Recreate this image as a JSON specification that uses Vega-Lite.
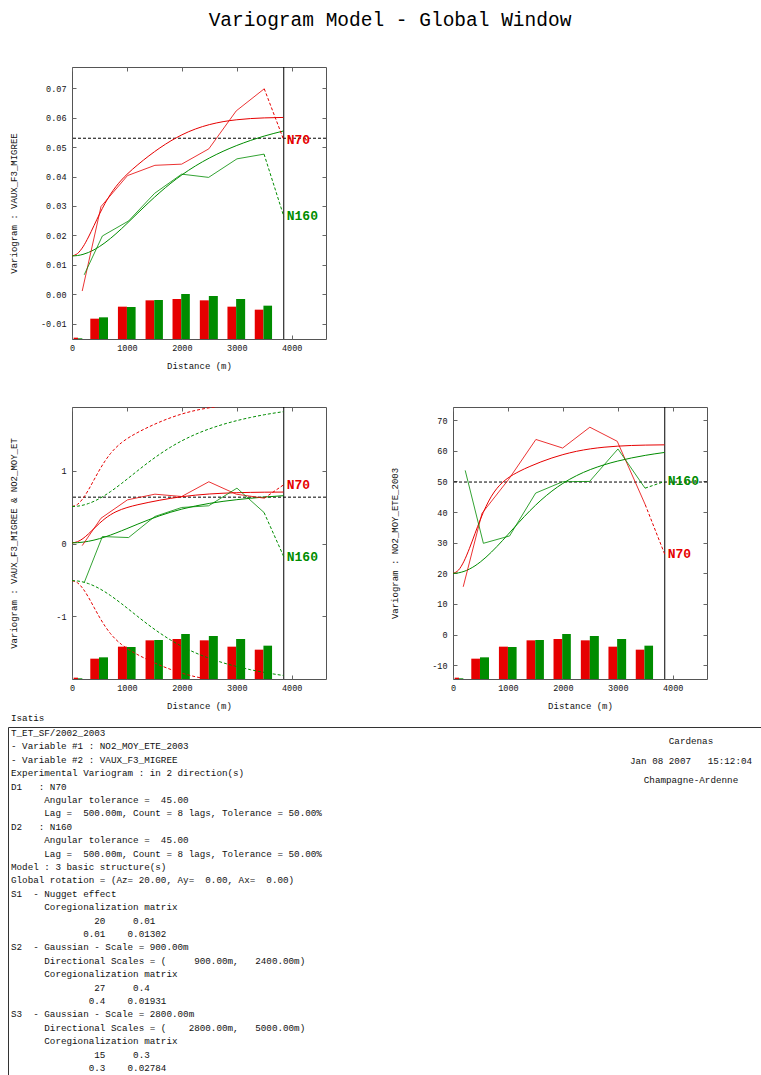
{
  "$schema": "https://vega.github.io/schema/vega-lite/v6.json",
  "background": "white",
  "padding": {"left": 8, "top": 9, "right": 0, "bottom": 0},
  "title": {"text": "Variogram Model - Global Window", "font": "Liberation Mono", "fontSize": 19.5, "fontWeight": "normal", "anchor": "middle", "offset": 36, "dx": -31, "color": "#000"},
  "datasets": {
    "bars": [
      {"dir": "N70", "lag": 0, "d0": 30, "d1": 109, "count": 40},
      {"dir": "N160", "lag": 0, "d0": 109, "d1": 188, "count": 20},
      {"dir": "N70", "lag": 1, "d0": 333, "d1": 491, "count": 610},
      {"dir": "N160", "lag": 1, "d0": 491, "d1": 655, "count": 650},
      {"dir": "N70", "lag": 2, "d0": 836, "d1": 1000, "count": 970},
      {"dir": "N160", "lag": 2, "d0": 1000, "d1": 1158, "count": 960},
      {"dir": "N70", "lag": 3, "d0": 1339, "d1": 1497, "count": 1160},
      {"dir": "N160", "lag": 3, "d0": 1497, "d1": 1655, "count": 1170},
      {"dir": "N70", "lag": 4, "d0": 1830, "d1": 1988, "count": 1200},
      {"dir": "N160", "lag": 4, "d0": 1988, "d1": 2145, "count": 1350},
      {"dir": "N70", "lag": 5, "d0": 2327, "d1": 2491, "count": 1160},
      {"dir": "N160", "lag": 5, "d0": 2491, "d1": 2655, "count": 1290},
      {"dir": "N70", "lag": 6, "d0": 2830, "d1": 2988, "count": 970},
      {"dir": "N160", "lag": 6, "d0": 2988, "d1": 3152, "count": 1200},
      {"dir": "N70", "lag": 7, "d0": 3327, "d1": 3485, "count": 880},
      {"dir": "N160", "lag": 7, "d0": 3485, "d1": 3642, "count": 1000}
    ],
    "model": [
      {"dir": "N70", "h": 0, "vaux": 0.01302, "no2": 20, "cross": 0.01, "envp": 0.5103, "envn": -0.5103},
      {"dir": "N70", "h": 100, "vaux": 0.01383, "no2": 21.04, "cross": 0.0257, "envp": 0.5394, "envn": -0.5394},
      {"dir": "N70", "h": 200, "vaux": 0.0161, "no2": 23.95, "cross": 0.0696, "envp": 0.621, "envn": -0.621},
      {"dir": "N70", "h": 300, "vaux": 0.01944, "no2": 28.16, "cross": 0.1336, "envp": 0.7399, "envn": -0.7399},
      {"dir": "N70", "h": 400, "vaux": 0.02331, "no2": 32.96, "cross": 0.2067, "envp": 0.8765, "envn": -0.8765},
      {"dir": "N70", "h": 500, "vaux": 0.02722, "no2": 37.67, "cross": 0.2789, "envp": 1.0126, "envn": -1.0126},
      {"dir": "N70", "h": 600, "vaux": 0.03082, "no2": 41.81, "cross": 0.3432, "envp": 1.1352, "envn": -1.1352},
      {"dir": "N70", "h": 700, "vaux": 0.03395, "no2": 45.17, "cross": 0.3961, "envp": 1.2383, "envn": -1.2383},
      {"dir": "N70", "h": 800, "vaux": 0.03657, "no2": 47.73, "cross": 0.4378, "envp": 1.3212, "envn": -1.3212},
      {"dir": "N70", "h": 900, "vaux": 0.03879, "no2": 49.65, "cross": 0.47, "envp": 1.3878, "envn": -1.3878},
      {"dir": "N70", "h": 1000, "vaux": 0.04071, "no2": 51.1, "cross": 0.4955, "envp": 1.4423, "envn": -1.4423},
      {"dir": "N70", "h": 1200, "vaux": 0.04403, "no2": 53.22, "cross": 0.5352, "envp": 1.5308, "envn": -1.5308},
      {"dir": "N70", "h": 1400, "vaux": 0.04701, "no2": 54.9, "cross": 0.568, "envp": 1.6065, "envn": -1.6065},
      {"dir": "N70", "h": 1600, "vaux": 0.04972, "no2": 56.37, "cross": 0.5973, "envp": 1.6741, "envn": -1.6741},
      {"dir": "N70", "h": 1800, "vaux": 0.05211, "no2": 57.66, "cross": 0.6232, "envp": 1.7334, "envn": -1.7334},
      {"dir": "N70", "h": 2000, "vaux": 0.05415, "no2": 58.75, "cross": 0.6451, "envp": 1.7836, "envn": -1.7836},
      {"dir": "N70", "h": 2250, "vaux": 0.05616, "no2": 59.84, "cross": 0.6668, "envp": 1.8332, "envn": -1.8332},
      {"dir": "N70", "h": 2500, "vaux": 0.05762, "no2": 60.63, "cross": 0.6826, "envp": 1.8691, "envn": -1.8691},
      {"dir": "N70", "h": 2750, "vaux": 0.05863, "no2": 61.17, "cross": 0.6934, "envp": 1.8938, "envn": -1.8938},
      {"dir": "N70", "h": 3000, "vaux": 0.05928, "no2": 61.52, "cross": 0.7004, "envp": 1.9097, "envn": -1.9097},
      {"dir": "N70", "h": 3250, "vaux": 0.05968, "no2": 61.74, "cross": 0.7047, "envp": 1.9195, "envn": -1.9195},
      {"dir": "N70", "h": 3500, "vaux": 0.05991, "no2": 61.86, "cross": 0.7072, "envp": 1.9251, "envn": -1.9251},
      {"dir": "N70", "h": 3850, "vaux": 0.06007, "no2": 61.95, "cross": 0.709, "envp": 1.9291, "envn": -1.9291},
      {"dir": "N160", "h": 0, "vaux": 0.01302, "no2": 20, "cross": 0.01, "envp": 0.5103, "envn": -0.5103},
      {"dir": "N160", "h": 100, "vaux": 0.01315, "no2": 20.16, "cross": 0.0124, "envp": 0.5149, "envn": -0.5149},
      {"dir": "N160", "h": 200, "vaux": 0.01355, "no2": 20.63, "cross": 0.0197, "envp": 0.5287, "envn": -0.5287},
      {"dir": "N160", "h": 300, "vaux": 0.0142, "no2": 21.4, "cross": 0.0315, "envp": 0.5513, "envn": -0.5513},
      {"dir": "N160", "h": 400, "vaux": 0.01509, "no2": 22.44, "cross": 0.0477, "envp": 0.5819, "envn": -0.5819},
      {"dir": "N160", "h": 500, "vaux": 0.0162, "no2": 23.74, "cross": 0.0677, "envp": 0.6202, "envn": -0.6202},
      {"dir": "N160", "h": 600, "vaux": 0.0175, "no2": 25.25, "cross": 0.0911, "envp": 0.6647, "envn": -0.6647},
      {"dir": "N160", "h": 700, "vaux": 0.01896, "no2": 26.94, "cross": 0.1172, "envp": 0.7147, "envn": -0.7147},
      {"dir": "N160", "h": 800, "vaux": 0.02055, "no2": 28.76, "cross": 0.1456, "envp": 0.7688, "envn": -0.7688},
      {"dir": "N160", "h": 900, "vaux": 0.02225, "no2": 30.68, "cross": 0.1755, "envp": 0.8262, "envn": -0.8262},
      {"dir": "N160", "h": 1000, "vaux": 0.02401, "no2": 32.66, "cross": 0.2063, "envp": 0.8855, "envn": -0.8855},
      {"dir": "N160", "h": 1200, "vaux": 0.02763, "no2": 36.63, "cross": 0.2687, "envp": 1.006, "envn": -1.006},
      {"dir": "N160", "h": 1400, "vaux": 0.03121, "no2": 40.42, "cross": 0.3288, "envp": 1.1232, "envn": -1.1232},
      {"dir": "N160", "h": 1600, "vaux": 0.0346, "no2": 43.85, "cross": 0.3839, "envp": 1.2318, "envn": -1.2318},
      {"dir": "N160", "h": 1800, "vaux": 0.03773, "no2": 46.84, "cross": 0.4327, "envp": 1.3294, "envn": -1.3294},
      {"dir": "N160", "h": 2000, "vaux": 0.04054, "no2": 49.36, "cross": 0.4746, "envp": 1.4146, "envn": -1.4146},
      {"dir": "N160", "h": 2250, "vaux": 0.04362, "no2": 51.9, "cross": 0.518, "envp": 1.5046, "envn": -1.5046},
      {"dir": "N160", "h": 2500, "vaux": 0.04627, "no2": 53.87, "cross": 0.5529, "envp": 1.5788, "envn": -1.5788},
      {"dir": "N160", "h": 2750, "vaux": 0.04856, "no2": 55.42, "cross": 0.5812, "envp": 1.6405, "envn": -1.6405},
      {"dir": "N160", "h": 3000, "vaux": 0.05054, "no2": 56.66, "cross": 0.6044, "envp": 1.6922, "envn": -1.6922},
      {"dir": "N160", "h": 3250, "vaux": 0.05225, "no2": 57.67, "cross": 0.6239, "envp": 1.7359, "envn": -1.7359},
      {"dir": "N160", "h": 3500, "vaux": 0.05374, "no2": 58.51, "cross": 0.6403, "envp": 1.7732, "envn": -1.7732},
      {"dir": "N160", "h": 3850, "vaux": 0.05546, "no2": 59.46, "cross": 0.6592, "envp": 1.8159, "envn": -1.8159}
    ],
    "exp": [
      {"dir": "N70", "dist": 186, "vaux": 0.0011, "cross": -0.028, "no2": 15.6},
      {"dir": "N70", "dist": 528, "vaux": 0.0298, "cross": 0.349, "no2": 39.6},
      {"dir": "N70", "dist": 1010, "vaux": 0.0403, "cross": 0.602, "no2": 50.6},
      {"dir": "N70", "dist": 1509, "vaux": 0.0438, "cross": 0.68, "no2": 63.7},
      {"dir": "N70", "dist": 1996, "vaux": 0.0442, "cross": 0.648, "no2": 60.9},
      {"dir": "N70", "dist": 2491, "vaux": 0.0494, "cross": 0.851, "no2": 67.7},
      {"dir": "N70", "dist": 2990, "vaux": 0.0623, "cross": 0.68, "no2": 63.1},
      {"dir": "N70", "dist": 3500, "vaux": 0.0698, "cross": 0.625, "no2": 42.4},
      {"dir": "N160", "dist": 222, "vaux": 0.0066, "cross": -0.538, "no2": 53.6},
      {"dir": "N160", "dist": 553, "vaux": 0.0198, "cross": 0.097, "no2": 29.8},
      {"dir": "N160", "dist": 1030, "vaux": 0.0249, "cross": 0.083, "no2": 32.2},
      {"dir": "N160", "dist": 1505, "vaux": 0.0343, "cross": 0.372, "no2": 46.2},
      {"dir": "N160", "dist": 1996, "vaux": 0.0408, "cross": 0.497, "no2": 49.9},
      {"dir": "N160", "dist": 2487, "vaux": 0.0397, "cross": 0.52, "no2": 50.0},
      {"dir": "N160", "dist": 3003, "vaux": 0.046, "cross": 0.763, "no2": 60.6},
      {"dir": "N160", "dist": 3496, "vaux": 0.0476, "cross": 0.428, "no2": 47.8}
    ],
    "tail": [
      {"dir": "N70", "dist": 3500, "vaux": 0.0698, "cross": 0.625, "no2": 42.4},
      {"dir": "N70", "dist": 3855, "vaux": 0.0524, "cross": 0.81, "no2": 26.2},
      {"dir": "N160", "dist": 3496, "vaux": 0.0476, "cross": 0.428, "no2": 47.8},
      {"dir": "N160", "dist": 3855, "vaux": 0.0265, "cross": -0.18, "no2": 50.0}
    ],
    "refs": [
      {"panel": "VAUX", "sill": 0.053, "maxdist": 3855},
      {"panel": "CROSS", "sill": 0.639, "maxdist": 3855},
      {"panel": "NO2", "sill": 49.8, "maxdist": 3855}
    ],
    "textLines": [
      {"block": "left", "line": -1.1, "text": "Isatis"},
      {"block": "left", "line": 0, "text": "T_ET_SF/2002_2003"},
      {"block": "left", "line": 1, "text": "- Variable #1 : NO2_MOY_ETE_2003"},
      {"block": "left", "line": 2, "text": "- Variable #2 : VAUX_F3_MIGREE"},
      {"block": "left", "line": 3, "text": "Experimental Variogram : in 2 direction(s)"},
      {"block": "left", "line": 4, "text": "D1\u00a0\u00a0\u00a0: N70"},
      {"block": "left", "line": 5, "text": "\u200b\u00a0\u00a0\u00a0\u00a0\u00a0\u00a0Angular tolerance =\u00a0\u00a045.00"},
      {"block": "left", "line": 6, "text": "\u200b\u00a0\u00a0\u00a0\u00a0\u00a0\u00a0Lag =\u00a0\u00a0500.00m, Count = 8 lags, Tolerance = 50.00%"},
      {"block": "left", "line": 7, "text": "D2\u00a0\u00a0\u00a0: N160"},
      {"block": "left", "line": 8, "text": "\u200b\u00a0\u00a0\u00a0\u00a0\u00a0\u00a0Angular tolerance =\u00a0\u00a045.00"},
      {"block": "left", "line": 9, "text": "\u200b\u00a0\u00a0\u00a0\u00a0\u00a0\u00a0Lag =\u00a0\u00a0500.00m, Count = 8 lags, Tolerance = 50.00%"},
      {"block": "left", "line": 10, "text": "Model : 3 basic structure(s)"},
      {"block": "left", "line": 11, "text": "Global rotation = (Az= 20.00, Ay=\u00a0\u00a00.00, Ax=\u00a0\u00a00.00)"},
      {"block": "left", "line": 12, "text": "S1\u00a0\u00a0- Nugget effect"},
      {"block": "left", "line": 13, "text": "\u200b\u00a0\u00a0\u00a0\u00a0\u00a0\u00a0Coregionalization matrix"},
      {"block": "left", "line": 14, "text": "\u200b\u00a0\u00a0\u00a0\u00a0\u00a0\u00a0\u00a0\u00a0\u00a0\u00a0\u00a0\u00a0\u00a0\u00a0\u00a020\u00a0\u00a0\u00a0\u00a0\u00a00.01"},
      {"block": "left", "line": 15, "text": "\u200b\u00a0\u00a0\u00a0\u00a0\u00a0\u00a0\u00a0\u00a0\u00a0\u00a0\u00a0\u00a0\u00a00.01\u00a0\u00a0\u00a0\u00a00.01302"},
      {"block": "left", "line": 16, "text": "S2\u00a0\u00a0- Gaussian - Scale = 900.00m"},
      {"block": "left", "line": 17, "text": "\u200b\u00a0\u00a0\u00a0\u00a0\u00a0\u00a0Directional Scales = (\u00a0\u00a0\u00a0\u00a0\u00a0900.00m,\u00a0\u00a0\u00a02400.00m)"},
      {"block": "left", "line": 18, "text": "\u200b\u00a0\u00a0\u00a0\u00a0\u00a0\u00a0Coregionalization matrix"},
      {"block": "left", "line": 19, "text": "\u200b\u00a0\u00a0\u00a0\u00a0\u00a0\u00a0\u00a0\u00a0\u00a0\u00a0\u00a0\u00a0\u00a0\u00a0\u00a027\u00a0\u00a0\u00a0\u00a0\u00a00.4"},
      {"block": "left", "line": 20, "text": "\u200b\u00a0\u00a0\u00a0\u00a0\u00a0\u00a0\u00a0\u00a0\u00a0\u00a0\u00a0\u00a0\u00a0\u00a00.4\u00a0\u00a0\u00a0\u00a00.01931"},
      {"block": "left", "line": 21, "text": "S3\u00a0\u00a0- Gaussian - Scale = 2800.00m"},
      {"block": "left", "line": 22, "text": "\u200b\u00a0\u00a0\u00a0\u00a0\u00a0\u00a0Directional Scales = (\u00a0\u00a0\u00a0\u00a02800.00m,\u00a0\u00a0\u00a05000.00m)"},
      {"block": "left", "line": 23, "text": "\u200b\u00a0\u00a0\u00a0\u00a0\u00a0\u00a0Coregionalization matrix"},
      {"block": "left", "line": 24, "text": "\u200b\u00a0\u00a0\u00a0\u00a0\u00a0\u00a0\u00a0\u00a0\u00a0\u00a0\u00a0\u00a0\u00a0\u00a0\u00a015\u00a0\u00a0\u00a0\u00a0\u00a00.3"},
      {"block": "left", "line": 25, "text": "\u200b\u00a0\u00a0\u00a0\u00a0\u00a0\u00a0\u00a0\u00a0\u00a0\u00a0\u00a0\u00a0\u00a0\u00a00.3\u00a0\u00a0\u00a0\u00a00.02784"},
      {"block": "right", "line": 0.59, "text": "Cardenas"},
      {"block": "right", "line": 2.06, "text": "Jan 08 2007\u00a0\u00a0\u00a015:12:04"},
      {"block": "right", "line": 3.54, "text": "Champagne-Ardenne"}
    ]
  },
  "concat": [
    {
      "spacing": 35,
      "vconcat": [
        {
          "width": 254, "height": 272,
          "layer": [
            {
              "data": {"name": "bars"},
              "mark": {"type": "rect"},
              "encoding": {
                "x": {"field": "d0", "type": "quantitative", "scale": {"domain": [0, 4624], "nice": false, "zero": false}, "axis": {"orient": "top", "labels": false, "title": null, "values": [0, 1000, 2000, 3000, 4000], "minExtent": 0, "maxExtent": 0}},
                "x2": {"field": "d1"},
                "y": {"field": "count", "type": "quantitative", "scale": {"domain": [0, 8160], "nice": false}, "axis": null},
                "y2": {"datum": 0},
                "color": {"field": "dir", "type": "nominal", "scale": {"domain": ["N70", "N160"], "range": ["#e60000", "#008c00"]}, "legend": null}
              }
            },
            {
              "layer": [
                {
                  "mark": {"type": "rule", "color": "#000", "strokeWidth": 1},
                  "encoding": {"y": {"datum": 0, "type": "quantitative", "scale": {"domain": [-0.0152, 0.0772], "nice": false, "zero": false}, "axis": null}}
                },
                {
                  "data": {"name": "refs"},
                  "transform": [{"filter": "datum.panel == 'VAUX'"}],
                  "mark": {"type": "rule", "color": "#000", "strokeWidth": 1, "strokeDash": [3, 2]},
                  "encoding": {"y": {"field": "sill", "type": "quantitative", "scale": {"domain": [-0.0152, 0.0772], "nice": false, "zero": false}, "axis": null}}
                },
                {
                  "data": {"name": "refs"},
                  "transform": [{"filter": "datum.panel == 'VAUX'"}],
                  "mark": {"type": "rule", "color": "#000", "strokeWidth": 1},
                  "encoding": {"x": {"field": "maxdist", "type": "quantitative", "scale": {"domain": [0, 4624], "nice": false, "zero": false}, "axis": null}}
                },
                {
                  "data": {"name": "model"},
                  "mark": {"type": "line", "strokeWidth": 1, "interpolate": "monotone"},
                  "encoding": {
                    "x": {"field": "h", "type": "quantitative", "scale": {"domain": [0, 4624], "nice": false, "zero": false}, "axis": {"orient": "bottom", "title": "Distance (m)", "values": [0, 1000, 2000, 3000, 4000], "format": "d"}},
                    "y": {"field": "vaux", "type": "quantitative", "scale": {"domain": [-0.0152, 0.0772], "nice": false, "zero": false}, "axis": {"orient": "left", "title": "Variogram : VAUX_F3_MIGREE", "values": [-0.01, 0, 0.01, 0.02, 0.03, 0.04, 0.05, 0.06, 0.07], "format": ".2f", "labelExpr": "replace(datum.label, '\u2212', '-')"}},
                    "color": {"field": "dir", "type": "nominal", "legend": null}
                  }
                },
                {
                  "data": {"name": "exp"},
                  "mark": {"type": "line", "strokeWidth": 1, "opacity": 0.8},
                  "encoding": {
                    "x": {"field": "dist", "type": "quantitative", "scale": {"domain": [0, 4624], "nice": false, "zero": false}, "axis": null},
                    "y": {"field": "vaux", "type": "quantitative", "scale": {"domain": [-0.0152, 0.0772], "nice": false, "zero": false}, "axis": {"orient": "right", "labels": false, "title": null, "values": [-0.01, 0, 0.01, 0.02, 0.03, 0.04, 0.05, 0.06, 0.07], "minExtent": 0, "maxExtent": 0}},
                    "color": {"field": "dir", "type": "nominal", "legend": null}
                  }
                },
                {
                  "data": {"name": "tail"},
                  "mark": {"type": "line", "strokeWidth": 1, "strokeDash": [3, 2]},
                  "encoding": {
                    "x": {"field": "dist", "type": "quantitative", "scale": {"domain": [0, 4624], "nice": false, "zero": false}, "axis": null},
                    "y": {"field": "vaux", "type": "quantitative", "scale": {"domain": [-0.0152, 0.0772], "nice": false, "zero": false}, "axis": null},
                    "color": {"field": "dir", "type": "nominal", "legend": null}
                  }
                },
                {
                  "data": {"name": "tail"},
                  "transform": [{"filter": "datum.dist > 3800"}],
                  "mark": {"type": "text", "align": "left", "baseline": "middle", "dx": 3, "font": "Liberation Mono", "fontSize": 13, "fontWeight": "bold"},
                  "encoding": {
                    "x": {"field": "dist", "type": "quantitative", "scale": {"domain": [0, 4624], "nice": false, "zero": false}, "axis": null},
                    "y": {"field": "vaux", "type": "quantitative", "scale": {"domain": [-0.0152, 0.0772], "nice": false, "zero": false}, "axis": null},
                    "text": {"field": "dir"},
                    "color": {"field": "dir", "type": "nominal", "legend": null}
                  }
                }
              ],
              "resolve": {"axis": {"x": "independent", "y": "independent"}}
            }
          ],
          "resolve": {"scale": {"y": "independent"}, "axis": {"x": "independent", "y": "independent"}}
        },
        {
          "spacing": 62,
          "hconcat": [
            {
              "width": 254, "height": 272,
              "layer": [
                {
                  "data": {"name": "bars"},
                  "mark": {"type": "rect"},
                  "encoding": {
                    "x": {"field": "d0", "type": "quantitative", "scale": {"domain": [0, 4624], "nice": false, "zero": false}, "axis": {"orient": "top", "labels": false, "title": null, "values": [0, 1000, 2000, 3000, 4000], "minExtent": 0, "maxExtent": 0}},
                    "x2": {"field": "d1"},
                    "y": {"field": "count", "type": "quantitative", "scale": {"domain": [0, 8160], "nice": false}, "axis": null},
                    "y2": {"datum": 0},
                    "color": {"field": "dir", "type": "nominal", "scale": {"domain": ["N70", "N160"], "range": ["#e60000", "#008c00"]}, "legend": null}
                  }
                },
                {
                  "layer": [
                    {
                      "mark": {"type": "rule", "color": "#888", "strokeWidth": 1.5},
                      "encoding": {"y": {"datum": 0, "type": "quantitative", "scale": {"domain": [-1.864, 1.88], "nice": false, "zero": false}, "axis": null}}
                    },
                    {
                      "data": {"name": "refs"},
                      "transform": [{"filter": "datum.panel == 'CROSS'"}],
                      "mark": {"type": "rule", "color": "#000", "strokeWidth": 1, "strokeDash": [3, 2]},
                      "encoding": {"y": {"field": "sill", "type": "quantitative", "scale": {"domain": [-1.864, 1.88], "nice": false, "zero": false}, "axis": null}}
                    },
                    {
                      "data": {"name": "refs"},
                      "transform": [{"filter": "datum.panel == 'CROSS'"}],
                      "mark": {"type": "rule", "color": "#000", "strokeWidth": 1},
                      "encoding": {"x": {"field": "maxdist", "type": "quantitative", "scale": {"domain": [0, 4624], "nice": false, "zero": false}, "axis": null}}
                    },
                    {
                      "data": {"name": "model"},
                      "mark": {"type": "line", "strokeWidth": 1, "strokeDash": [3, 2], "interpolate": "monotone", "clip": true},
                      "encoding": {
                        "x": {"field": "h", "type": "quantitative", "scale": {"domain": [0, 4624], "nice": false, "zero": false}, "axis": null},
                        "y": {"field": "envp", "type": "quantitative", "scale": {"domain": [-1.864, 1.88], "nice": false, "zero": false}, "axis": null},
                        "color": {"field": "dir", "type": "nominal", "legend": null}
                      }
                    },
                    {
                      "data": {"name": "model"},
                      "mark": {"type": "line", "strokeWidth": 1, "strokeDash": [3, 2], "interpolate": "monotone", "clip": true},
                      "encoding": {
                        "x": {"field": "h", "type": "quantitative", "scale": {"domain": [0, 4624], "nice": false, "zero": false}, "axis": null},
                        "y": {"field": "envn", "type": "quantitative", "scale": {"domain": [-1.864, 1.88], "nice": false, "zero": false}, "axis": null},
                        "color": {"field": "dir", "type": "nominal", "legend": null}
                      }
                    },
                    {
                      "data": {"name": "model"},
                      "mark": {"type": "line", "strokeWidth": 1, "interpolate": "monotone"},
                      "encoding": {
                        "x": {"field": "h", "type": "quantitative", "scale": {"domain": [0, 4624], "nice": false, "zero": false}, "axis": {"orient": "bottom", "title": "Distance (m)", "values": [0, 1000, 2000, 3000, 4000], "format": "d"}},
                        "y": {"field": "cross", "type": "quantitative", "scale": {"domain": [-1.864, 1.88], "nice": false, "zero": false}, "axis": {"orient": "left", "title": "Variogram : VAUX_F3_MIGREE & NO2_MOY_ET", "values": [-1, 0, 1], "format": "d", "labelExpr": "replace(datum.label, '\u2212', '-')"}},
                        "color": {"field": "dir", "type": "nominal", "legend": null}
                      }
                    },
                    {
                      "data": {"name": "exp"},
                      "mark": {"type": "line", "strokeWidth": 1, "opacity": 0.8},
                      "encoding": {
                        "x": {"field": "dist", "type": "quantitative", "scale": {"domain": [0, 4624], "nice": false, "zero": false}, "axis": null},
                        "y": {"field": "cross", "type": "quantitative", "scale": {"domain": [-1.864, 1.88], "nice": false, "zero": false}, "axis": {"orient": "right", "labels": false, "title": null, "values": [-1, 0, 1], "minExtent": 0, "maxExtent": 0}},
                        "color": {"field": "dir", "type": "nominal", "legend": null}
                      }
                    },
                    {
                      "data": {"name": "tail"},
                      "mark": {"type": "line", "strokeWidth": 1, "strokeDash": [3, 2]},
                      "encoding": {
                        "x": {"field": "dist", "type": "quantitative", "scale": {"domain": [0, 4624], "nice": false, "zero": false}, "axis": null},
                        "y": {"field": "cross", "type": "quantitative", "scale": {"domain": [-1.864, 1.88], "nice": false, "zero": false}, "axis": null},
                        "color": {"field": "dir", "type": "nominal", "legend": null}
                      }
                    },
                    {
                      "data": {"name": "tail"},
                      "transform": [{"filter": "datum.dist > 3800"}],
                      "mark": {"type": "text", "align": "left", "baseline": "middle", "dx": 3, "font": "Liberation Mono", "fontSize": 13, "fontWeight": "bold"},
                      "encoding": {
                        "x": {"field": "dist", "type": "quantitative", "scale": {"domain": [0, 4624], "nice": false, "zero": false}, "axis": null},
                        "y": {"field": "cross", "type": "quantitative", "scale": {"domain": [-1.864, 1.88], "nice": false, "zero": false}, "axis": null},
                        "text": {"field": "dir"},
                        "color": {"field": "dir", "type": "nominal", "legend": null}
                      }
                    }
                  ],
                  "resolve": {"axis": {"x": "independent", "y": "independent"}}
                }
              ],
              "resolve": {"scale": {"y": "independent"}, "axis": {"x": "independent", "y": "independent"}}
            },
            {
              "width": 254, "height": 272,
              "layer": [
                {
                  "data": {"name": "bars"},
                  "mark": {"type": "rect"},
                  "encoding": {
                    "x": {"field": "d0", "type": "quantitative", "scale": {"domain": [0, 4624], "nice": false, "zero": false}, "axis": {"orient": "top", "labels": false, "title": null, "values": [0, 1000, 2000, 3000, 4000], "minExtent": 0, "maxExtent": 0}},
                    "x2": {"field": "d1"},
                    "y": {"field": "count", "type": "quantitative", "scale": {"domain": [0, 8160], "nice": false}, "axis": null},
                    "y2": {"datum": 0},
                    "color": {"field": "dir", "type": "nominal", "scale": {"domain": ["N70", "N160"], "range": ["#e60000", "#008c00"]}, "legend": null}
                  }
                },
                {
                  "layer": [
                    {
                      "mark": {"type": "rule", "color": "#000", "strokeWidth": 1},
                      "encoding": {"y": {"datum": 0, "type": "quantitative", "scale": {"domain": [-14.5, 74.3], "nice": false, "zero": false}, "axis": null}}
                    },
                    {
                      "data": {"name": "refs"},
                      "transform": [{"filter": "datum.panel == 'NO2'"}],
                      "mark": {"type": "rule", "color": "#000", "strokeWidth": 1, "strokeDash": [3, 2]},
                      "encoding": {"y": {"field": "sill", "type": "quantitative", "scale": {"domain": [-14.5, 74.3], "nice": false, "zero": false}, "axis": null}}
                    },
                    {
                      "data": {"name": "refs"},
                      "transform": [{"filter": "datum.panel == 'NO2'"}],
                      "mark": {"type": "rule", "color": "#000", "strokeWidth": 1},
                      "encoding": {"x": {"field": "maxdist", "type": "quantitative", "scale": {"domain": [0, 4624], "nice": false, "zero": false}, "axis": null}}
                    },
                    {
                      "data": {"name": "model"},
                      "mark": {"type": "line", "strokeWidth": 1, "interpolate": "monotone"},
                      "encoding": {
                        "x": {"field": "h", "type": "quantitative", "scale": {"domain": [0, 4624], "nice": false, "zero": false}, "axis": {"orient": "bottom", "title": "Distance (m)", "values": [0, 1000, 2000, 3000, 4000], "format": "d"}},
                        "y": {"field": "no2", "type": "quantitative", "scale": {"domain": [-14.5, 74.3], "nice": false, "zero": false}, "axis": {"orient": "left", "title": "Variogram : NO2_MOY_ETE_2003", "values": [-10, 0, 10, 20, 30, 40, 50, 60, 70], "format": "d", "labelExpr": "replace(datum.label, '\u2212', '-')"}},
                        "color": {"field": "dir", "type": "nominal", "legend": null}
                      }
                    },
                    {
                      "data": {"name": "exp"},
                      "mark": {"type": "line", "strokeWidth": 1, "opacity": 0.8},
                      "encoding": {
                        "x": {"field": "dist", "type": "quantitative", "scale": {"domain": [0, 4624], "nice": false, "zero": false}, "axis": null},
                        "y": {"field": "no2", "type": "quantitative", "scale": {"domain": [-14.5, 74.3], "nice": false, "zero": false}, "axis": {"orient": "right", "labels": false, "title": null, "values": [-10, 0, 10, 20, 30, 40, 50, 60, 70], "minExtent": 0, "maxExtent": 0}},
                        "color": {"field": "dir", "type": "nominal", "legend": null}
                      }
                    },
                    {
                      "data": {"name": "tail"},
                      "mark": {"type": "line", "strokeWidth": 1, "strokeDash": [3, 2]},
                      "encoding": {
                        "x": {"field": "dist", "type": "quantitative", "scale": {"domain": [0, 4624], "nice": false, "zero": false}, "axis": null},
                        "y": {"field": "no2", "type": "quantitative", "scale": {"domain": [-14.5, 74.3], "nice": false, "zero": false}, "axis": null},
                        "color": {"field": "dir", "type": "nominal", "legend": null}
                      }
                    },
                    {
                      "data": {"name": "tail"},
                      "transform": [{"filter": "datum.dist > 3800"}],
                      "mark": {"type": "text", "align": "left", "baseline": "middle", "dx": 3, "font": "Liberation Mono", "fontSize": 13, "fontWeight": "bold"},
                      "encoding": {
                        "x": {"field": "dist", "type": "quantitative", "scale": {"domain": [0, 4624], "nice": false, "zero": false}, "axis": null},
                        "y": {"field": "no2", "type": "quantitative", "scale": {"domain": [-14.5, 74.3], "nice": false, "zero": false}, "axis": null},
                        "text": {"field": "dir"},
                        "color": {"field": "dir", "type": "nominal", "legend": null}
                      }
                    }
                  ],
                  "resolve": {"axis": {"x": "independent", "y": "independent"}}
                }
              ],
              "resolve": {"scale": {"y": "independent"}, "axis": {"x": "independent", "y": "independent"}}
            }
          ]
        }
      ]
    },
    {
      "width": 698, "height": 360,
      "view": {"stroke": null},
      "data": {"name": "textLines"},
      "layer": [
        {
          "transform": [{"filter": "datum.block == 'left'"}],
          "mark": {"type": "text", "align": "left", "baseline": "middle", "font": "Liberation Mono", "fontSize": 9.25, "color": "#111"},
          "encoding": {
            "x": {"field": "block", "type": "nominal", "scale": {"type": "point", "domain": ["left", "right"], "range": [-64, 698], "padding": 0.060294, "align": 0.036585}, "axis": {"orient": "top", "domain": true, "domainColor": "#333", "domainWidth": 1, "ticks": false, "labels": false, "title": null, "minExtent": 0, "maxExtent": 0}},
            "y": {"field": "line", "type": "quantitative", "scale": {"domain": [-0.448, 26.418], "reverse": true, "nice": false, "zero": false}, "axis": {"orient": "left", "offset": 64, "domain": true, "domainColor": "#333", "domainWidth": 1, "ticks": false, "labels": false, "title": null, "minExtent": 0, "maxExtent": 0}},
            "text": {"field": "text"}
          }
        },
        {
          "transform": [{"filter": "datum.block == 'right'"}],
          "mark": {"type": "text", "align": "center", "baseline": "middle", "font": "Liberation Mono", "fontSize": 9.25, "color": "#111"},
          "encoding": {
            "x": {"field": "block", "type": "nominal", "scale": {"type": "point", "domain": ["left", "right"], "range": [-64, 698], "padding": 0.060294, "align": 0.036585}, "axis": {"orient": "top", "domain": true, "domainColor": "#333", "domainWidth": 1, "ticks": false, "labels": false, "title": null, "minExtent": 0, "maxExtent": 0}},
            "y": {"field": "line", "type": "quantitative", "scale": {"domain": [-0.448, 26.418], "reverse": true, "nice": false, "zero": false}, "axis": {"orient": "left", "offset": 64, "domain": true, "domainColor": "#333", "domainWidth": 1, "ticks": false, "labels": false, "title": null, "minExtent": 0, "maxExtent": 0}},
            "text": {"field": "text"}
          }
        }
      ]
    }
  ],
  "columns": 1,
  "spacing": 3,
  "config": {
    "font": "Liberation Mono",
    "view": {"stroke": "#555", "strokeWidth": 1},
    "axis": {"grid": false, "domain": false, "tickSize": -4, "tickColor": "#666", "labelFont": "Liberation Mono", "labelFontSize": 8.5, "labelColor": "#111", "labelFlush": false, "titleFont": "Liberation Mono", "titleFontSize": 9, "titleFontWeight": "normal", "titleColor": "#111"},
    "axisX": {"labelPadding": 8, "titlePadding": 9.5},
    "axisY": {"labelPadding": 10, "titlePadding": 20, "minExtent": 34, "maxExtent": 34}
  }
}
